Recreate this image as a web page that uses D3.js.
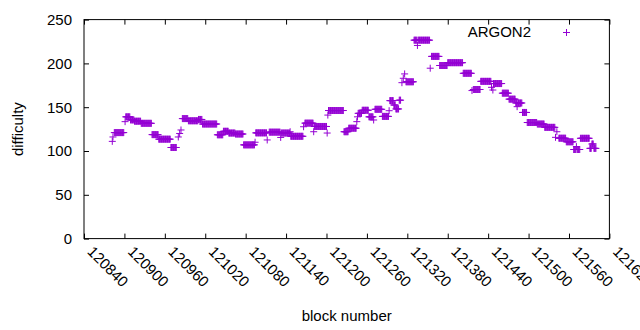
<!DOCTYPE html>
<html>
<head>
<meta charset="utf-8">
<style>
    body { margin: 0; background: #fff; }
    svg { font-family: "Liberation Sans", Arial, sans-serif; }
    .axis text { font-size: 15px; fill: #000; }
    .label { font-size: 15px; fill: #000; }
</style>
</head>
<body>
<svg width="640" height="330"></svg>

<script src="https://d3js.org/d3.v7.min.js"></script>
<script>
    // difficulty is constant between retargets, so the series is kept as runs of blocks
    let runStart = [120882, 120883, 120885, 120901, 120902, 120909, 120915, 120925, 120941, 120951,
        120969, 120980, 120982, 120984, 120986, 120995, 121010, 121016, 121038, 121047,
        121055, 121065, 121077, 121094, 121095, 121112, 121115, 121132, 121133, 121146,
        121147, 121166, 121168, 121181, 121182, 121201, 121202, 121203, 121226, 121233,
        121245, 121246, 121247, 121253, 121263, 121270, 121272, 121283, 121293, 121294,
        121300, 121303, 121308, 121312, 121314, 121316, 121318, 121330, 121335, 121336,
        121354, 121356, 121368, 121380, 121403, 121416, 121418, 121429, 121445, 121447,
        121448, 121461, 121471, 121481, 121483, 121484, 121491, 121498, 121513, 121524,
        121540, 121542, 121545, 121556, 121567, 121571, 121572, 121577, 121591, 121594,
        121597]
    let runEnd = [120882, 120883, 120899, 120901, 120908, 120914, 120924, 120940, 120950, 120968,
        120977, 120980, 120982, 120984, 120994, 121009, 121015, 121037, 121046, 121054,
        121064, 121076, 121093, 121094, 121111, 121112, 121131, 121132, 121145, 121146,
        121165, 121166, 121180, 121181, 121200, 121201, 121202, 121225, 121232, 121244,
        121245, 121246, 121252, 121262, 121269, 121270, 121282, 121292, 121293, 121299,
        121302, 121307, 121310, 121312, 121314, 121316, 121329, 121334, 121335, 121353,
        121354, 121367, 121379, 121402, 121415, 121416, 121428, 121444, 121445, 121447,
        121460, 121470, 121480, 121482, 121483, 121490, 121497, 121512, 121523, 121539,
        121540, 121542, 121555, 121566, 121570, 121571, 121576, 121590, 121593, 121596,
        121600]
    let runDiff = [111, 116, 121, 133.5, 139, 135.5, 134, 131.6, 118.7, 113.5,
        104, 116, 120, 124, 137, 134.5, 136, 130.8, 118.5, 122.5,
        120.5, 119.4, 107, 110, 120.7, 112.6, 121.5, 115.5, 120.5, 122,
        116.8, 127.7, 131.8, 122, 128, 120.5, 141, 146.2, 122, 126,
        133.5, 139, 143, 146.5, 139, 135.4, 147.6, 139.5, 146, 157.5,
        152.5, 148, 158, 178, 183, 188, 179, 226.5, 220.5, 226.5,
        194.5, 208, 197.6, 200.8, 188.7, 169, 170.2, 179.5, 172.7, 169.6,
        177, 166, 159.2, 154.8, 150.6, 154.8, 144, 132.5, 130.8, 127,
        115.6, 122, 114.6, 110.5, 101.7, 105, 101.7, 114.5, 103, 108,
        103]

    let xTicks = [120840, 120900, 120960, 121020, 121080, 121140, 121200,
        121260, 121320, 121380, 121440, 121500, 121560, 121620]
    let yTicks = [0, 50, 100, 150, 200, 250]

    let seriesName = "ARGON2"
    let purple = "#9400d3"

    let svg = d3.select("svg")

    let margin = { top: 19.6, right: 30.6, bottom: 91.4, left: 84 }
    let width = 640
    let height = 330

    let x = d3.scaleLinear()
        .domain([120840, 121620])
        .range([margin.left, width - margin.right])

    let y = d3.scaleLinear()
        .domain([0, 250])
        .range([height - margin.bottom, margin.top])

    // one point per block
    let points = []
    runStart.forEach(function (s, i) {
        for (let b = s; b <= runEnd[i]; b++) {
            points.push({ block: b, difficulty: runDiff[i] })
        }
    })

    let tickLen = 5

    let xAxis = svg.append("g")
        .attr("class", "x axis")
        .attr("transform", `translate(0,${y(0)})`)
        .call(d3.axisBottom(x).tickValues(xTicks).tickSize(-tickLen).tickPadding(0).tickFormat(d3.format("d")))
        .call(g => g.select(".domain").remove())

    xAxis.selectAll(".tick line").attr("stroke", "#000")
    xAxis.selectAll(".tick text")
        .attr("text-anchor", "start")
        .attr("dy", null)
        .attr("y", null)
        .attr("transform", "translate(2,14) rotate(45)")

    svg.append("g")
        .attr("transform", `translate(0,${y(250)})`)
        .call(d3.axisTop(x).tickValues(xTicks).tickSize(-tickLen).tickFormat(""))
        .call(g => g.select(".domain").remove())
        .selectAll("line").attr("stroke", "#000")

    let yAxis = svg.append("g")
        .attr("class", "y axis")
        .attr("transform", `translate(${x(120840)},0)`)
        .call(d3.axisLeft(y).tickValues(yTicks).tickSize(-tickLen).tickPadding(12))
        .call(g => g.select(".domain").remove())
    yAxis.selectAll(".tick line").attr("stroke", "#000")

    svg.append("g")
        .attr("transform", `translate(${x(121620)},0)`)
        .call(d3.axisRight(y).tickValues(yTicks).tickSize(-tickLen).tickFormat(""))
        .call(g => g.select(".domain").remove())
        .selectAll("line").attr("stroke", "#000")

    svg.append("rect")
        .attr("x", x(120840))
        .attr("y", y(250))
        .attr("width", x(121620) - x(120840))
        .attr("height", y(0) - y(250))
        .attr("fill", "none")
        .attr("stroke", "#000")

    let plus = "M-3.5,0h7M0,-3.5v7"

    svg.append("g")
        .selectAll("path")
        .data(points)
        .join("path")
        .attr("d", plus)
        .attr("transform", d => `translate(${x(d.block)},${y(d.difficulty)})`)
        .attr("stroke", purple)
        .attr("stroke-width", 1)
        .attr("fill", "none")

    // legend
    svg.append("text")
        .attr("class", "label")
        .attr("x", 531)
        .attr("y", 37)
        .attr("text-anchor", "end")
        .text(seriesName)

    svg.append("path")
        .attr("d", plus)
        .attr("transform", "translate(566.5,32.5)")
        .attr("stroke", purple)
        .attr("fill", "none")

    svg.append("text")
        .attr("class", "label")
        .attr("transform", `translate(23,${(y(0) + y(250)) / 2}) rotate(-90)`)
        .attr("text-anchor", "middle")
        .text("difficulty")

    svg.append("text")
        .attr("class", "label")
        .attr("x", (x(120840) + x(121620)) / 2)
        .attr("y", 321)
        .attr("text-anchor", "middle")
        .text("block number")
</script>
</body>
</html>
